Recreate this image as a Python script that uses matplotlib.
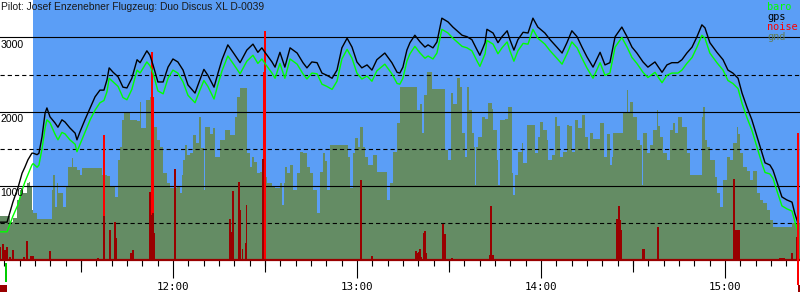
import numpy as np
import matplotlib
matplotlib.use("Agg")
import matplotlib.pyplot as plt

# ---------------- data (time = minutes after 11:00, altitude in m) -------------
title = "Pilot: Josef Enzenebner Flugzeug: Duo Discus XL D-0039"

track_t = [3.6, 5.9, 7.8, 9.5, 10.8, 11.7, 12.7, 14.0, 14.4, 15.7,
           16.3, 17.3, 18.3, 18.9, 19.9, 21.5, 22.5, 23.8, 24.8, 26.4,
           28.1, 28.7, 29.7, 31.3, 33.0, 34.6, 36.2, 37.5, 38.5, 39.2,
           40.5, 42.1, 43.7, 45.0, 46.6, 48.3, 49.3, 51.5, 52.5, 53.5,
           55.1, 56.8, 58.4, 60.0, 61.6, 63.3, 64.9, 67.2, 68.8, 70.1,
           71.4, 73.4, 74.7, 76.0, 77.9, 79.6, 81.9, 84.1, 86.1, 87.7,
           89.0, 90.0, 92.3, 93.3, 94.9, 96.5, 98.2, 100.5, 102.4, 103.7,
           105.3, 107.0, 108.6, 110.2, 111.9, 113.5, 115.1, 116.8, 118.4, 120.0,
           121.6, 123.3, 124.9, 126.5, 129.1, 131.4, 133.1, 134.0, 135.0, 136.3,
           137.3, 138.9, 140.6, 142.2, 143.2, 144.8, 146.1, 147.7, 149.7, 151.3,
           154.3, 155.9, 157.5, 159.2, 160.1, 161.8, 162.4, 164.4, 166.0, 167.3,
           169.0, 169.9, 171.2, 172.5, 174.2, 175.8, 177.4, 179.0, 181.3, 183.0,
           185.2, 186.9, 188.5, 190.1, 191.8, 193.4, 195.0, 197.0, 199.3, 200.9,
           202.5, 204.2, 206.4, 208.1, 209.7, 211.3, 213.3, 214.9, 217.2, 219.5,
           221.1, 222.7, 224.7, 226.0, 227.6, 229.3, 230.9, 232.5, 233.5, 235.1,
           237.4, 239.4, 241.0, 242.6, 244.3, 245.6, 247.2, 248.8, 250.5, 252.1,
           253.1, 254.7, 255.7, 257.0, 258.6, 260.2, 261.9, 262.8, 263.8]

gps = [510, 510, 780, 980, 1170, 1250, 1350, 1440, 1440, 1420,
       1440, 1660, 1980, 2050, 1930, 1850, 1790, 1890, 1860, 1780,
       1710, 1620, 1730, 1890, 2050, 2200, 2290, 2290, 2430, 2590,
       2530, 2470, 2330, 2320, 2450, 2700, 2660, 2820, 2760, 2630,
       2400, 2400, 2600, 2710, 2670, 2560, 2360, 2250, 2430, 2570,
       2490, 2330, 2520, 2700, 2900, 2800, 2660, 2830, 2910, 2800,
       2860, 2800, 2670, 2600, 2800, 2600, 2860, 2790, 2660, 2590,
       2670, 2660, 2520, 2490, 2450, 2560, 2860, 2990, 2870, 2670,
       2590, 2630, 2560, 2700, 2790, 2660, 2530, 2520, 2600, 2830,
       2930, 3030, 2940, 2870, 2900, 2860, 2940, 3260, 3210, 3140,
       3030, 3010, 2970, 2830, 2760, 2930, 3110, 3060, 2930, 3010,
       3090, 2970, 2830, 2970, 3070, 3060, 3260, 3140, 3060, 2970,
       2870, 2790, 2930, 3090, 3010, 2870, 2740, 2600, 2800, 2630,
       2660, 3010, 3140, 3010, 2870, 2790, 2670, 2600, 2670, 2530,
       2630, 2660, 2660, 2700, 2790, 2870, 3010, 3170, 3130, 2930,
       2800, 2700, 2560, 2520, 2450, 2250, 2060, 1890, 1660, 1440,
       1310, 1280, 1210, 1050, 850, 810, 780, 630, 500]

baro = [380, 380, 590, 750, 940, 1050, 1150, 1280, 1300, 1250,
        1280, 1500, 1780, 1890, 1850, 1700, 1620, 1720, 1700, 1620,
        1560, 1460, 1560, 1720, 1890, 2020, 2120, 2150, 2270, 2450,
        2400, 2340, 2190, 2160, 2300, 2560, 2520, 2670, 2620, 2520,
        2280, 2240, 2450, 2560, 2520, 2400, 2220, 2120, 2290, 2420,
        2340, 2170, 2370, 2550, 2750, 2650, 2510, 2680, 2760, 2650,
        2710, 2650, 2520, 2450, 2650, 2450, 2710, 2640, 2510, 2440,
        2520, 2510, 2370, 2340, 2300, 2410, 2710, 2840, 2720, 2520,
        2440, 2480, 2410, 2550, 2640, 2510, 2380, 2370, 2450, 2680,
        2780, 2880, 2790, 2720, 2750, 2710, 2790, 3110, 3060, 2990,
        2880, 2860, 2820, 2680, 2610, 2780, 2960, 2910, 2780, 2860,
        2940, 2820, 2680, 2820, 2920, 2910, 3110, 2990, 2910, 2820,
        2720, 2640, 2780, 2940, 2860, 2720, 2590, 2450, 2660, 2490,
        2520, 2870, 3000, 2870, 2730, 2650, 2530, 2460, 2530, 2390,
        2490, 2520, 2520, 2560, 2650, 2730, 2870, 3030, 2990, 2790,
        2660, 2560, 2420, 2380, 2310, 2110, 1920, 1750, 1520, 1300,
        1180, 1160, 1100, 930, 730, 690, 660, 520, 390]

gnd_t = [3.6, 6.9, 7.8, 9.1, 10.1, 11.1, 12.4, 13.1, 13.4, 14.0,
         14.4, 15.7, 19.9, 20.6, 20.9, 21.5, 22.2, 22.5, 23.8, 24.1,
         25.1, 25.8, 27.1, 27.4, 28.7, 29.7, 30.3, 36.2, 36.9, 38.5,
         39.5, 41.1, 42.1, 42.7, 43.4, 44.0, 45.3, 46.0, 48.3, 49.3,
         49.6, 50.2, 51.2, 52.5, 53.2, 53.5, 54.8, 55.8, 56.8, 58.1,
         59.0, 61.3, 62.3, 63.0, 63.3, 63.9, 64.6, 65.6, 66.5, 67.5,
         68.5, 69.1, 70.1, 70.5, 72.1, 73.1, 73.7, 75.3, 77.0, 78.6,
         79.6, 80.2, 80.9, 81.9, 83.5, 84.1, 85.1, 85.8, 86.4, 87.4,
         88.4, 89.4, 90.7, 92.3, 93.3, 94.9, 95.6, 96.2, 96.5, 97.2,
         98.2, 99.1, 100.5, 101.4, 102.4, 103.7, 104.7, 105.7, 107.0, 108.0,
         108.9, 109.6, 110.2, 111.2, 116.8, 117.1, 117.7, 118.7, 119.4, 120.3,
         121.0, 122.0, 122.6, 123.6, 125.2, 126.5, 129.1, 129.8, 130.8, 131.8,
         133.1, 134.0, 139.6, 140.6, 141.2, 141.9, 142.8, 144.5, 148.4, 148.7,
         149.7, 150.7, 151.3, 152.6, 153.6, 154.3, 155.2, 155.9, 156.5, 157.5,
         158.2, 158.5, 158.8, 159.5, 160.8, 161.8, 162.7, 164.0, 164.4, 165.7,
         166.0, 166.7, 168.3, 169.3, 170.6, 170.9, 171.5, 172.5, 173.8, 174.2,
         175.5, 177.1, 178.1, 179.0, 179.7, 180.7, 182.0, 182.3, 183.6, 184.6,
         185.2, 186.2, 187.2, 188.5, 189.2, 190.1, 191.1, 192.1, 193.4, 194.4,
         195.3, 196.0, 197.0, 199.3, 200.6, 201.5, 202.5, 203.2, 203.5, 206.8,
         208.1, 208.4, 209.0, 210.0, 211.3, 212.3, 213.0, 213.3, 214.6, 215.6,
         216.5, 217.8, 218.2, 218.8, 219.8, 221.1, 222.1, 223.1, 223.7, 224.7,
         226.0, 227.0, 227.6, 228.6, 232.5, 232.8, 233.5, 234.2, 235.1, 236.8,
         237.4, 238.4, 239.4, 240.7, 241.7, 242.6, 243.9, 244.3, 244.9, 245.9,
         247.2, 248.2, 249.2, 250.5, 251.4, 252.4, 253.7, 254.7, 255.7, 261.9,
         264.5]

gnd = [590, 510, 560, 810, 940, 900, 1040, 1050, 985, 670,
       630, 550, 550, 940, 1150, 715, 1040, 900, 900, 715,
       985, 1250, 1375, 1250, 1213, 1150, 1240, 1240, 1150, 1130,
       985, 850, 1350, 1520, 1890, 2000, 2000, 1890, 1870, 2130,
       1780, 1780, 2157, 2197, 1900, 1793, 1618, 1523, 1173, 1038,
       970, 985, 900, 1150, 1350, 1550, 1420, 1440, 1685, 1577,
       1928, 1510, 940, 1793, 1700, 1780, 1390, 1618, 1752, 1685,
       1685, 1928, 2197, 2319, 2319, 1440, 1254, 1390, 1320, 1173,
       1187, 1120, 1040, 1000, 970, 1040, 741, 1040, 1254, 1170,
       1281, 940, 1170, 1456, 1440, 1254, 1170, 940, 634, 1180,
       1440, 1330, 940, 1550, 1550, 1390, 970, 1440, 1644, 1520,
       1793, 1520, 1390, 1281, 1415, 1187, 1187, 809, 1040, 1456,
       1847, 2332, 2022, 2100, 1712, 2224, 2534, 2305, 2305, 1483,
       1348, 2251, 2100, 2453, 2330, 1712, 1388, 2332, 2022, 1712,
       1523, 1011, 1523, 1658, 1928, 1900, 2116, 2030, 1752, 1348,
       1011, 1887, 1900, 2062, 1173, 876, 1150, 1456, 1577, 1308,
       1820, 1820, 1440, 1658, 1860, 1750, 1618, 1348, 1420, 1928,
       1800, 1388, 1450, 1820, 1800, 1456, 1887, 1780, 1955, 1658,
       1480, 1712, 1631, 1847, 1388, 1700, 1281, 1388, 1712, 1995,
       2292, 2000, 2130, 1928, 1618, 1550, 1011, 1712, 1440, 1550,
       1752, 2022, 1800, 1658, 1440, 1348, 1752, 1847, 1712, 1928,
       1793, 1793, 1440, 1146, 1928, 2062, 1618, 1520, 1348, 1119,
       903, 715, 1078, 1388, 1350, 1577, 1793, 1700, 1440, 1254,
       1200, 1078, 1200, 903, 809, 768, 674, 539, 445, 500,
       500]

noise_t = [3.6, 4.6, 5.2, 5.9, 6.9, 7.8, 11.4, 12.4, 13.7, 14.4,
           19.9, 35.6, 37.5, 39.5, 41.1, 41.4, 46.3, 47.0, 52.5, 53.2,
           53.5, 53.8, 60.7, 78.6, 78.9, 79.3, 79.6, 81.5, 81.9, 82.8,
           83.8, 84.0, 89.4, 121.3, 124.9, 139.3, 139.9, 140.2, 140.6, 140.9,
           141.9, 142.2, 142.5, 148.1, 148.7, 149.0, 151.0, 163.4, 163.7, 164.0,
           164.4, 204.8, 205.5, 205.8, 206.1, 213.3, 213.6, 218.2, 243.0, 243.6,
           243.9, 244.3, 244.6, 258.0, 258.6, 259.3, 261.9, 263.5]
noise = [175, 216, 135, 175, 40, 135, 40, 256, 54, 54,
         121, 27, 593, 404, 512, 297, 94, 135, 917, 600,
         634, 364, 1227, 553, 324, 377, 930, 1051, 674, 148,
         229, 741, 1361, 1078, 54, 121, 94, 108, 148, 40,
         364, 391, 94, 485, 350, 67, 27, 67, 728, 688,
         67, 553, 728, 539, 404, 148, 148, 445, 1092, 404,
         404, 404, 404, 27, 27, 27, 94, 310]

peak_t = [37.5, 52.9, 53.2, 53.5, 89.7, 90.0, 90.3]
peak = [1685, 2197, 2804, 2197, 2534, 3087, 2372]

flight_start = 14.4      # blue shaded flight period begins
takeoff_t = 5.55
landing_t = 263.9
t_min, t_max = 3.6, 264.5
y_max = 3505

# ---------------- styling ----------------
BLUE = "#5b9ef6"
GND = "#648c64"
DARKRED = "#990000"

fig = plt.figure(figsize=(8, 3), dpi=100)
ax = fig.add_axes([0, 40 / 300, 1, 260 / 300])
ax.set_xlim(t_min, t_max)
ax.set_ylim(0, y_max)
for s in ax.spines.values():
    s.set_visible(False)

ax.axvspan(flight_start, t_max, color=BLUE, lw=0, zorder=0)
ax.fill_between(gnd_t, gnd, step="post", color=GND, lw=0, zorder=1)

for v in (1000, 2000, 3000):
    ax.axhline(v, color="black", lw=0.8, zorder=2)
for v in (500, 1500, 2500):
    ax.axhline(v, color="black", lw=0.8, ls=(0, (3.8, 2.7)), zorder=2)

ax.bar(peak_t, peak, width=0.42, color="#ff0000", lw=0, zorder=2.9)
ax.bar(noise_t, noise, width=0.42, color=DARKRED, lw=0, zorder=3)
ax.axhline(0, color=DARKRED, lw=1.6, zorder=3.5, clip_on=False)

ax.plot(track_t, baro, color="#00ff00", lw=1.0, zorder=4)
ax.plot(track_t, gps, color="black", lw=1.0, zorder=5)

# markers below the axis (takeoff / landing)
ax.bar(takeoff_t, -257, bottom=-40, width=0.7, color="#00cc00", lw=0,
       clip_on=False, zorder=6)
ax.bar(landing_t, 1712 + 337, bottom=-337, width=0.65, color="#ff0000", lw=0,
       clip_on=False, zorder=6)
ax.bar((t_min + 5.8) / 2, -94, bottom=-337, width=5.8 - t_min, color=DARKRED,
       lw=0, clip_on=False, zorder=6)
ax.bar(landing_t + 0.3, -94, bottom=-337, width=0.65, color=DARKRED,
       lw=0, clip_on=False, zorder=6)

# y labels inside plot
for v in (1000, 2000, 3000):
    ax.annotate(str(v), xy=(0, v), xycoords=("axes fraction", "data"),
                xytext=(0.5, -1.5), textcoords="offset points", ha="left", va="top",
                fontsize=7.6, family="Liberation Sans", color="black", zorder=7)
ax.set_yticks([])

# x ticks
hours = [60, 120, 180, 240]
halfs = [30, 90, 150, 210]
ax.set_xticks(hours)
ax.set_xticklabels([f"{11 + h // 60}:{h % 60:02d}" for h in hours],
                   family="DejaVu Sans Mono", fontsize=7.8)
ax.set_xticks(np.arange(5, 265, 5), minor=True)
ax.tick_params(axis="x", which="major", length=13, width=0.8, pad=2.5, direction="out")
ax.tick_params(axis="x", which="minor", length=4.5, width=0.8, direction="out")
sec = ax.secondary_xaxis("bottom")
sec.set_xticks(halfs)
sec.set_xticklabels([""] * len(halfs))
sec.tick_params(length=8.5, width=0.8)
for s in sec.spines.values():
    s.set_visible(False)

# title and legend
fig.text(1 / 800, 1 - 1.5 / 300, title, ha="left", va="top", fontsize=7.4,
         family="Liberation Sans", color="#1a1a1a")
legend = [("baro", "#00ff00"), ("gps", "black"), ("noise", "#ff0000"), ("gnd", "#627e58")]
for i, (name, col) in enumerate(legend):
    fig.text(767.5 / 800, 1 - (2 + i * 10) / 300, name, ha="left", va="top",
             fontsize=7.4, family="DejaVu Sans Mono", color=col)

fig.savefig("out.png", dpi=100)
